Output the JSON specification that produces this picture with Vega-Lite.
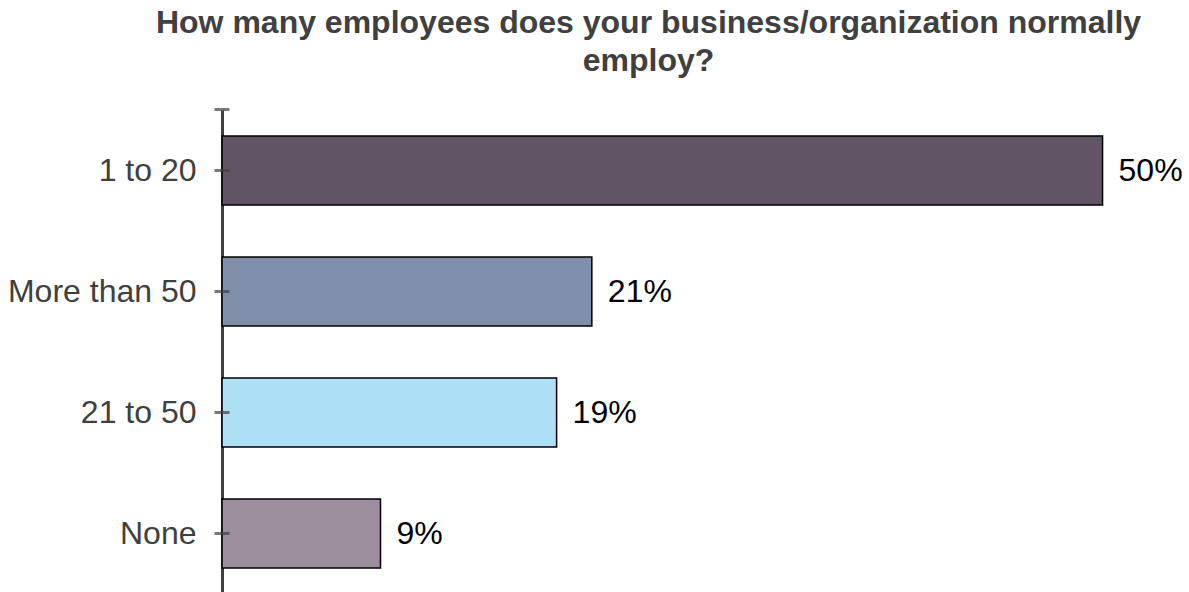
{
  "$schema": "https://vega.github.io/schema/vega-lite/v6.json",
  "width": 951,
  "height": 484,
  "autosize": {"type": "none"},
  "padding": {"left": 222, "top": 110, "right": 16, "bottom": 0},
  "background": "white",
  "title": {
    "text": ["How many employees does your business/organization normally", "employ?"],
    "font": "Liberation Sans",
    "fontSize": 32,
    "fontWeight": "bold",
    "color": "#404040",
    "anchor": "middle",
    "dx": -49,
    "lineHeight": 38,
    "offset": 30
  },
  "data": {
    "values": [
      {"category": "1 to 20", "pct": 50, "label": "50%"},
      {"category": "More than 50", "pct": 21, "label": "21%"},
      {"category": "21 to 50", "pct": 19, "label": "19%"},
      {"category": "None", "pct": 9, "label": "9%"}
    ]
  },
  "config": {"view": {"stroke": null}},
  "encoding": {
    "y": {
      "field": "category",
      "type": "nominal",
      "sort": ["1 to 20", "More than 50", "21 to 50", "None"],
      "scale": {"paddingInner": 0.43, "paddingOuter": 0.215},
      "axis": {
        "title": null,
        "domainColor": "#404040",
        "domainWidth": 3,
        "ticks": false,
        "labelFont": "Liberation Sans",
        "labelFontSize": 32,
        "labelColor": "#404040",
        "labelPadding": 26,
        "labelLimit": 400
      }
    }
  },
  "layer": [
    {
      "mark": {"type": "bar", "stroke": "black", "strokeWidth": 1.5},
      "encoding": {
        "x": {
          "field": "pct",
          "type": "quantitative",
          "scale": {"domain": [0, 54], "nice": false},
          "axis": null
        },
        "color": {
          "field": "category",
          "type": "nominal",
          "scale": {
            "domain": ["1 to 20", "More than 50", "21 to 50", "None"],
            "range": ["#615464", "#7F8FAA", "#ADDFF5", "#9D8E9D"]
          },
          "legend": null
        }
      }
    },
    {
      "mark": {"type": "text", "align": "left", "dx": 16, "font": "Liberation Sans", "fontSize": 32, "color": "black"},
      "encoding": {
        "x": {"field": "pct", "type": "quantitative"},
        "text": {"field": "label"}
      }
    },
    {
      "mark": {"type": "tick", "orient": "horizontal", "color": "#404040", "thickness": 3, "size": 15},
      "encoding": {
        "x": {"datum": 0, "type": "quantitative"}
      }
    },
    {
      "transform": [{"filter": "datum.category === '1 to 20'"}],
      "mark": {"type": "tick", "orient": "horizontal", "color": "#404040", "thickness": 3, "size": 15, "yOffset": -61},
      "encoding": {
        "x": {"datum": 0, "type": "quantitative"}
      }
    }
  ]
}
